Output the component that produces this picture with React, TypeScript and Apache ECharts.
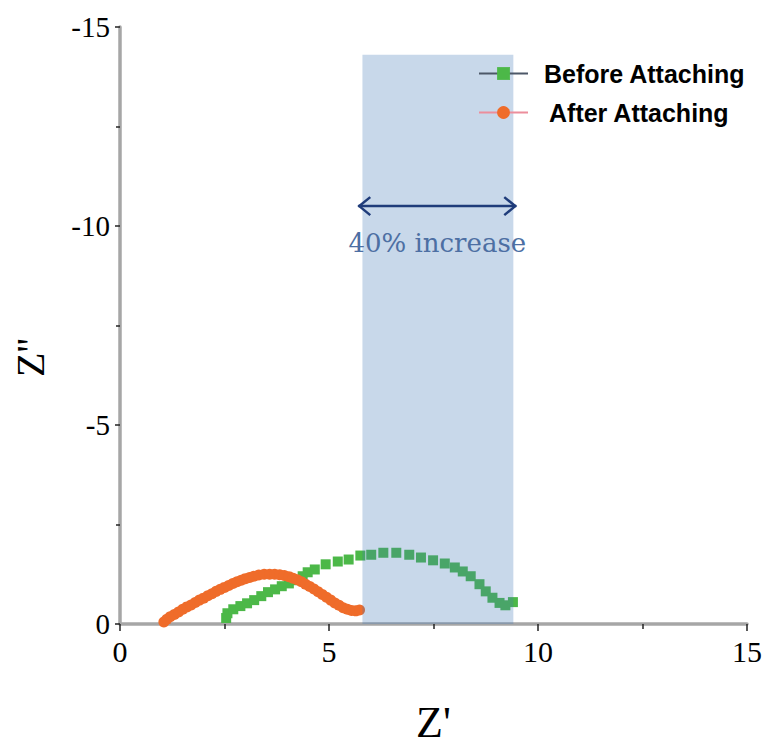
import React, { useEffect, useRef } from "react";
import * as echarts from "echarts";

// Series: Nyquist plot points [Z', Z'']
const beforeAttaching: number[][] = [
  [2.54, -0.15], [2.57, -0.27], [2.71, -0.37], [2.88, -0.45], [3.04, -0.52],
  [3.21, -0.6], [3.38, -0.7], [3.54, -0.8], [3.71, -0.87], [3.87, -0.95],
  [4.04, -1.02], [4.21, -1.1], [4.37, -1.2], [4.49, -1.3], [4.66, -1.37],
  [4.92, -1.5], [5.21, -1.57], [5.47, -1.62], [5.75, -1.72], [6.01, -1.74],
  [6.3, -1.79], [6.61, -1.79], [6.92, -1.74], [7.2, -1.67], [7.49, -1.6],
  [7.77, -1.52], [8.01, -1.42], [8.2, -1.32], [8.39, -1.2], [8.6, -1.0],
  [8.75, -0.82], [8.91, -0.66], [9.08, -0.53], [9.22, -0.47], [9.4, -0.55],
];

const afterAttaching: number[][] = [
  [1.05, -0.05], [1.12, -0.12], [1.2, -0.18], [1.3, -0.24], [1.4, -0.3],
  [1.5, -0.37], [1.6, -0.43], [1.7, -0.48], [1.8, -0.54], [1.9, -0.6],
  [2.0, -0.65], [2.1, -0.71], [2.2, -0.76], [2.3, -0.82], [2.4, -0.87],
  [2.5, -0.92], [2.6, -0.97], [2.7, -1.02], [2.8, -1.06], [2.9, -1.1],
  [3.0, -1.14], [3.1, -1.17], [3.2, -1.2], [3.32, -1.23], [3.45, -1.25],
  [3.58, -1.25], [3.7, -1.25], [3.82, -1.24], [3.93, -1.22], [4.04, -1.19],
  [4.14, -1.15], [4.24, -1.11], [4.34, -1.06], [4.44, -1.0], [4.54, -0.94],
  [4.64, -0.88], [4.74, -0.81], [4.84, -0.74], [4.94, -0.67], [5.04, -0.6],
  [5.14, -0.53], [5.24, -0.47], [5.34, -0.41], [5.44, -0.37], [5.54, -0.34],
  [5.64, -0.33], [5.73, -0.35],
];

const seriesNames = ["Before Attaching", "After Attaching"];

// Annotation (data coordinates)
const shadeX = [5.8, 9.41];
const shadeTop = -14.3;
const arrowX = [5.7, 9.48];
const arrowY = -10.5;
const annotationText = "40% increase";

// Axes
const xRange = [0, 15];
const yRange = [-15, 0];
const tickStep = 5;

export default function App() {
  const ref = useRef<HTMLDivElement>(null);

  useEffect(() => {
    if (!ref.current) return;
    const chart = echarts.init(ref.current, undefined, { renderer: "svg" });

    const axisLineColor = "#a6a6a6";
    const tickColor = "#222";

    const option: any = {
      animation: false,
      backgroundColor: "#fff",
      grid: { left: 120, right: 14, top: 27, bottom: 120, containLabel: false },
      legend: {
        orient: "vertical",
        left: 473,
        top: 54,
        itemWidth: 49,
        itemHeight: 16,
        itemGap: 10,
        selectedMode: false,
        textStyle: {
          fontFamily: "'Liberation Sans', Arial, sans-serif",
          fontWeight: "bold",
          fontSize: 25,
          lineHeight: 29,
          color: "#000",
        },
        data: [
          {
            name: seriesNames[0],
            itemStyle: { color: "#4cb848" },
            lineStyle: { color: "#4d5868", width: 2, opacity: 1 },
            textStyle: { padding: [0, 0, 0, 11] },
          },
          {
            name: seriesNames[1],
            itemStyle: { color: "#ef6c2a" },
            lineStyle: { color: "#ec8e9c", width: 2, opacity: 1 },
            textStyle: { padding: [0, 0, 0, 16] },
          },
        ],
      },
      xAxis: {
        type: "value",
        min: xRange[0],
        max: xRange[1],
        interval: tickStep,
        name: "Z'",
        nameLocation: "middle",
        nameGap: 76,
        nameTextStyle: { fontFamily: "'Liberation Serif', serif", fontSize: 44, color: "#000" },
        axisLine: { show: true, lineStyle: { color: axisLineColor, width: 3.5 } },
        axisTick: { show: true, inside: false, length: 7, lineStyle: { color: tickColor, width: 1.5 } },
        minorTick: { show: true, splitNumber: 2, length: 5, lineStyle: { color: tickColor, width: 1.5 } },
        splitLine: { show: false },
        minorSplitLine: { show: false },
        axisLabel: { fontFamily: "'Liberation Serif', serif", fontSize: 30, color: "#000", margin: 12 },
      },
      yAxis: {
        type: "value",
        min: yRange[0],
        max: yRange[1],
        interval: tickStep,
        inverse: true,
        name: "Z''",
        nameLocation: "middle",
        nameRotate: 90,
        nameGap: 70,
        nameTextStyle: {
          fontFamily: "'Liberation Serif', serif",
          fontSize: 40,
          color: "#000",
          padding: [0, 64, 0, 0],
        },
        axisLine: { show: true, lineStyle: { color: axisLineColor, width: 3.5 } },
        axisTick: { show: true, inside: false, length: 5, lineStyle: { color: tickColor, width: 1.5 } },
        minorTick: { show: true, splitNumber: 2, length: 4, lineStyle: { color: tickColor, width: 1.5 } },
        splitLine: { show: false },
        minorSplitLine: { show: false },
        axisLabel: { fontFamily: "'Liberation Serif', serif", fontSize: 29, color: "#000", margin: 10 },
      },
      series: [
        {
          name: seriesNames[0],
          type: "line",
          data: beforeAttaching,
          symbol: "rect",
          symbolSize: 10,
          showSymbol: true,
          itemStyle: { color: "#4cb848" },
          lineStyle: { opacity: 0, width: 0 },
          z: 2,
        },
        {
          name: seriesNames[1],
          type: "line",
          data: afterAttaching,
          symbol: "circle",
          symbolSize: 11,
          showSymbol: true,
          itemStyle: { color: "#ef6c2a" },
          lineStyle: { opacity: 0, width: 0 },
          z: 2,
        },
        {
          name: "annotation",
          type: "custom",
          coordinateSystem: "cartesian2d",
          silent: true,
          clip: false,
          z: 3,
          data: [[shadeX[0], shadeTop]],
          renderItem: (_params: any, api: any) => {
            const tl = api.coord([shadeX[0], shadeTop]);
            const br = api.coord([shadeX[1], 0]);
            const a0 = api.coord([arrowX[0], arrowY]);
            const a1 = api.coord([arrowX[1], arrowY]);
            const arrowColor = "#1f3c7a";
            const cx = (a0[0] + a1[0]) / 2;
            return {
              type: "group",
              children: [
                {
                  type: "rect",
                  shape: { x: tl[0], y: tl[1], width: br[0] - tl[0], height: br[1] - tl[1] },
                  style: { fill: "rgba(67,119,182,0.29)" },
                },
                {
                  type: "line",
                  shape: { x1: a0[0], y1: a0[1], x2: a1[0], y2: a1[1] },
                  style: { stroke: arrowColor, lineWidth: 2.5 },
                },
                {
                  type: "polyline",
                  shape: { points: [[a0[0] + 12, a0[1] - 9], [a0[0] + 1, a0[1]], [a0[0] + 12, a0[1] + 9]] },
                  style: { stroke: arrowColor, lineWidth: 2.5, fill: null },
                },
                {
                  type: "polyline",
                  shape: { points: [[a1[0] - 12, a1[1] - 9], [a1[0] - 1, a1[1]], [a1[0] - 12, a1[1] + 9]] },
                  style: { stroke: arrowColor, lineWidth: 2.5, fill: null },
                },
                {
                  type: "text",
                  x: cx,
                  y: a0[1] + 37,
                  style: {
                    text: annotationText,
                    fill: "#4d6fa3",
                    fontFamily: "'DejaVu Serif', serif",
                    fontSize: 26,
                    align: "center",
                    verticalAlign: "middle",
                  },
                },
              ],
            };
          },
        },
      ],
    };

    chart.setOption(option);
    return () => chart.dispose();
  }, []);

  return (
    <div
      ref={ref}
      style={{ position: "fixed", left: 0, top: 0, width: 765, height: 749 }}
    />
  );
}
